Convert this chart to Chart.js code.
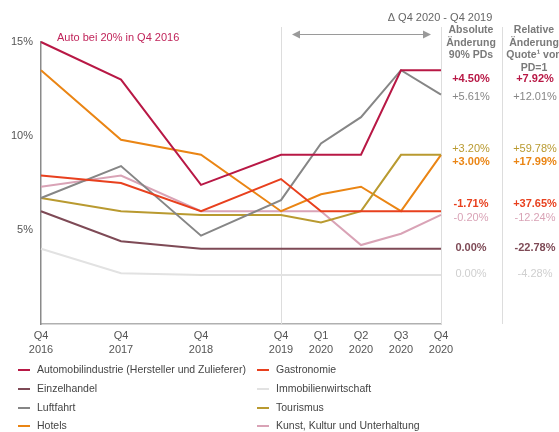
<!DOCTYPE html>
<html>
<head>
<meta charset="utf-8">
<script src="https://cdn.jsdelivr.net/npm/chart.js@4"></script>
<style>
  html, body { margin: 0; padding: 0; background: #fff; }
  #wrap { width: 559px; height: 432px; position: relative; }
</style>
</head>
<body>
<div id="wrap"><canvas id="pdChart"></canvas></div>
<script>
// Stützstellen: bis 2019 jährlich (doppelter Abstand), 2020 quartalsweise
const periods = ['Q4 2016', 'Q4 2017', 'Q4 2018', 'Q4 2019', 'Q1 2020', 'Q2 2020', 'Q3 2020', 'Q4 2020'];
const periodPos = [0, 2, 4, 6, 7, 8, 9, 10];
const yTicks = [5, 10, 15];
const Y_MAX = 15;

const branchen = [
  'Automobilindustrie (Hersteller und Zulieferer)', 'Gastronomie',
  'Einzelhandel', 'Immobilienwirtschaft',
  'Luftfahrt', 'Tourismus',
  'Hotels', 'Kunst, Kultur und Unterhaltung'
];

// 90% PDs in Prozent
const auto         = [20, 13.0, 7.4, 9.0, 9.0, 9.0, 13.5, 13.5];
const gastronomie  = [7.9, 7.5, 6.0, 7.71, 6.0, 6.0, 6.0, 6.0];
const einzelhandel = [6.0, 4.4, 4.0, 4.0, 4.0, 4.0, 4.0, 4.0];
const immobilien   = [4.0, 2.7, 2.6, 2.6, 2.6, 2.6, 2.6, 2.6];
const luftfahrt    = [6.7, 8.4, 4.7, 6.59, 9.6, 11.0, 13.5, 12.2];
const tourismus    = [6.7, 6.0, 5.8, 5.8, 5.4, 6.0, 9.0, 9.0];
const hotels       = [13.5, 9.8, 9.0, 6.0, 6.9, 7.3, 6.0, 9.0];
const kunst        = [7.3, 7.9, 6.0, 6.0, 6.0, 4.2, 4.8, 5.8];

// relative Änderung der Quote von PD=1 (Q4 2020 ggü. Q4 2019)
const relChange = ['+7.92%', '+37.65%', '-22.78%', '-4.28%', '+12.01%', '+59.78%', '+17.99%', '-12.24%'];

const series = [auto, gastronomie, einzelhandel, immobilien, luftfahrt, tourismus, hotels, kunst];
const colors = ['#b81845', '#e8401e', '#7e4a56', '#e2e2e2', '#868686', '#b99a30', '#ea8514', '#d9a3b6'];
const boldLabel = [true, true, true, false, false, false, true, false];
// Zeilen der Differenz-Spalten (px), damit sich die Werte nicht überlappen
const labelRows = [79, 204, 248, 274, 97, 149, 162, 218];

const FONT = '"Liberation Sans", Arial, sans-serif';

const datasets = branchen.map((name, i) => ({
  label: name,
  data: series[i].map((v, k) => ({ x: periodPos[k], y: Math.min(v, Y_MAX) })),
  borderColor: colors[i],
  backgroundColor: colors[i],
  borderWidth: 2,
  pointRadius: 0,
  tension: 0,
  clip: 4
}));

function fmtAbs(d) {
  const s = d.toFixed(2);
  if (s === '0.00' || s === '-0.00') return '0.00%';
  return (d > 0 ? '+' : '') + s + '%';
}

const decor = {
  id: 'decor',
  beforeDatasetsDraw(chart) {
    const { ctx, chartArea: a, scales: { x } } = chart;
    ctx.save();
    ctx.strokeStyle = '#dddddd';
    ctx.lineWidth = 1;
    [x.getPixelForValue(6), x.getPixelForValue(10), 502].forEach(px => {
      ctx.beginPath();
      ctx.moveTo(Math.round(px) + 0.5, 27);
      ctx.lineTo(Math.round(px) + 0.5, a.bottom);
      ctx.stroke();
    });
    ctx.restore();
  },
  afterDraw(chart) {
    const { ctx, scales: { x } } = chart;
    ctx.save();

    // Hinweis zur abgeschnittenen Auto-Linie
    ctx.font = '11px ' + FONT;
    ctx.fillStyle = '#c0245a';
    ctx.textAlign = 'left';
    ctx.textBaseline = 'middle';
    ctx.fillText('Auto bei 20% in Q4 2016', 57, 38);

    // Doppelpfeil Q4 2019 -> Q4 2020
    const x0 = x.getPixelForValue(6) + 11, x1 = x.getPixelForValue(10) - 10, ay = 34;
    ctx.strokeStyle = '#9a9a9a';
    ctx.fillStyle = '#9a9a9a';
    ctx.lineWidth = 1;
    ctx.beginPath();
    ctx.moveTo(x0 + 4, ay + 0.5);
    ctx.lineTo(x1 - 4, ay + 0.5);
    ctx.stroke();
    [[x0, 1], [x1, -1]].forEach(([px, dir]) => {
      ctx.beginPath();
      ctx.moveTo(px, ay + 0.5);
      ctx.lineTo(px + dir * 8, ay - 3.5);
      ctx.lineTo(px + dir * 8, ay + 4.5);
      ctx.closePath();
      ctx.fill();
    });

    // Spaltenköpfe
    ctx.fillStyle = '#666';
    ctx.textAlign = 'center';
    ctx.font = '11px ' + FONT;
    ctx.fillText('\u0394 Q4 2020 - Q4 2019', 440, 18);
    ctx.fillStyle = '#7a7a7a';
    ctx.font = 'bold 10.5px ' + FONT;
    ['Absolute', '\u00c4nderung', '90% PDs'].forEach((t, i) => ctx.fillText(t, 471, 30 + i * 12.8));
    ['Relative', '\u00c4nderung', 'Quote\u00b9 von', 'PD=1'].forEach((t, i) => ctx.fillText(t, 534, 30 + i * 12.8));

    // Differenzen je Branche
    series.forEach((vals, i) => {
      const abs = vals[7] - vals[3];
      ctx.fillStyle = colors[i] === '#e2e2e2' ? '#cfcfcf' : colors[i];
      ctx.font = (boldLabel[i] ? 'bold ' : '') + '11px ' + FONT;
      ctx.fillText(fmtAbs(abs), 471, labelRows[i]);
      ctx.fillText(relChange[i], 535, labelRows[i]);
    });

    // Legende, zweispaltig
    ctx.font = '10.5px ' + FONT;
    ctx.textAlign = 'left';
    const rows = [370, 389, 408, 426];
    const cols = [18, 257];
    branchen.forEach((name, i) => {
      const cx = cols[i % 2], cy = rows[Math.floor(i / 2)];
      ctx.strokeStyle = colors[i];
      ctx.lineWidth = 2;
      ctx.beginPath();
      ctx.moveTo(cx, cy);
      ctx.lineTo(cx + 12, cy);
      ctx.stroke();
      ctx.fillStyle = '#444';
      ctx.fillText(name, cx + 19, cy);
    });

    ctx.restore();
  }
};

new Chart(document.getElementById('pdChart').getContext('2d'), {
  type: 'line',
  data: { datasets: datasets },
  options: {
    responsive: true,
    maintainAspectRatio: false,
    animation: false,
    layout: { padding: { top: 42, right: 118, bottom: 71, left: 0 } },
    plugins: { legend: { display: false }, tooltip: { enabled: false } },
    scales: {
      x: {
        type: 'linear',
        min: 0,
        max: 10,
        afterBuildTicks: s => { s.ticks = periodPos.map(v => ({ value: v })); },
        afterFit: s => { s.height = 37; },
        grid: { display: false, drawTicks: false },
        border: { display: true, color: '#b0b0b0', width: 1.5 },
        ticks: {
          autoSkip: false,
          maxRotation: 0,
          padding: 5,
          color: '#555',
          font: { family: FONT, size: 11, lineHeight: 1.3 },
          callback: v => periods[periodPos.indexOf(v)].split(' ')
        }
      },
      y: {
        min: 0,
        max: Y_MAX,
        afterBuildTicks: s => { s.ticks = yTicks.map(v => ({ value: v })); },
        afterFit: s => { s.width = 41; },
        grid: { display: false, drawTicks: false },
        border: { display: true, color: '#8a8a8a', width: 1.5 },
        ticks: {
          padding: 8,
          color: '#555',
          font: { family: FONT, size: 11 },
          callback: v => v + '%'
        }
      }
    }
  },
  plugins: [decor]
});
</script>
</body>
</html>
